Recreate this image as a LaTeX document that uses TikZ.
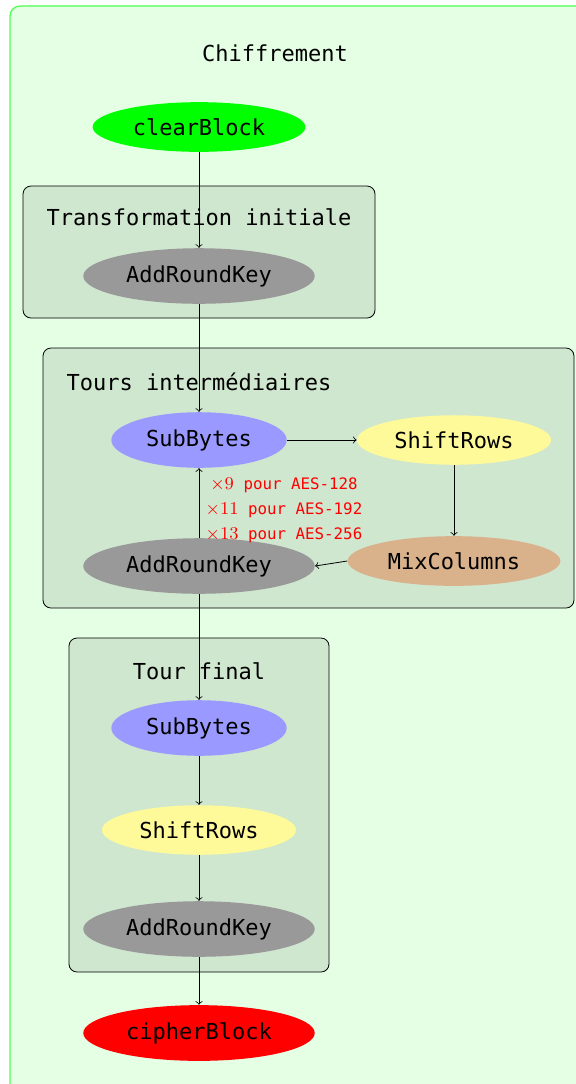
\documentclass[tikz,border=0pt]{standalone}
\usepackage{fontspec}
\setmonofont{DejaVu Sans Mono}
\usetikzlibrary{shapes.geometric}
\definecolor{outerfill}{RGB}{229,255,229}
\definecolor{outerline}{RGB}{77,255,77}
\definecolor{stagefill}{RGB}{207,230,207}
\newcommand{\roundcount}[1]{{\fontsize{9}{9}\selectfont$\times#1$}}
\begin{document}
\begin{tikzpicture}[x=0.5pt,y=-0.5pt,
  every node/.style={font=\fontsize{11}{13}\selectfont\ttfamily},
  op/.style={ellipse, inner sep=4.5pt},
  stage/.style={draw=black, fill=stagefill, rounded corners=4pt, line width=0.4pt},
  flow/.style={->, line width=0.4pt},
  note/.style={text=red, font=\fontsize{7.9}{9}\selectfont\ttfamily}]
% page area and the outer frame running off its right and bottom edges
\clip (0,0) rectangle (576,1084);
\draw[draw=outerline, fill=outerfill, rounded corners=5pt, line width=0.6pt] (10,6) rectangle (640,1140);
\node (title) at (275,53) {Chiffrement};

% stage frames
\node[stage, minimum width=176pt, minimum height=66pt] (init) at (199,252) {};
\node[stage, minimum width=265.5pt, minimum height=130pt] (rounds) at (308.5,478) {};
\node[stage, minimum width=130pt, minimum height=167pt] (final) at (199,805) {};
\node (tinit) at (199,217) {Transformation initiale};
\node (trounds) at (199,382) {Tours intermédiaires};
\node (tfinal) at (199,671) {Tour final};

% operations
\node[op, fill=green] (clear) at (199,127) {clearBlock};
\node[op, fill=black!40] (ark0) at (199,276) {AddRoundKey};
\node[op, fill=blue!40] (sb) at (199,440) {SubBytes};
\node[op, fill=yellow!40] (sr) at (454,440) {ShiftRows};
\node[op, fill=brown!60] (mc) at (454,561) {MixColumns};
\node[op, fill=black!40] (ark) at (199,566) {AddRoundKey};
\node[op, fill=blue!40] (sbf) at (199,728) {SubBytes};
\node[op, fill=yellow!40] (srf) at (199,830) {ShiftRows};
\node[op, fill=black!40] (arkf) at (199,929) {AddRoundKey};
\node[op, fill=red] (cipher) at (199,1033) {cipherBlock};

% repetition counts
\node[note] (n128) at (284,485) {\roundcount{9} pour AES-128};
\node[note] (n192) at (284,510) {\roundcount{11} pour AES-192};
\node[note] (n256) at (284,535) {\roundcount{13} pour AES-256};

% data flow
\draw[flow] (clear) -- (ark0);
\draw[flow] (ark0) -- (sb);
\draw[flow] (sb) -- (sr);
\draw[flow] (sr) -- (mc);
\draw[flow] (mc.west) -- (ark.east);
\draw[flow] (ark) -- (sb);
\draw[flow] (ark) -- (sbf);
\draw[flow] (sbf) -- (srf);
\draw[flow] (srf) -- (arkf);
\draw[flow] (arkf) -- (cipher);
\end{tikzpicture}
\end{document}
